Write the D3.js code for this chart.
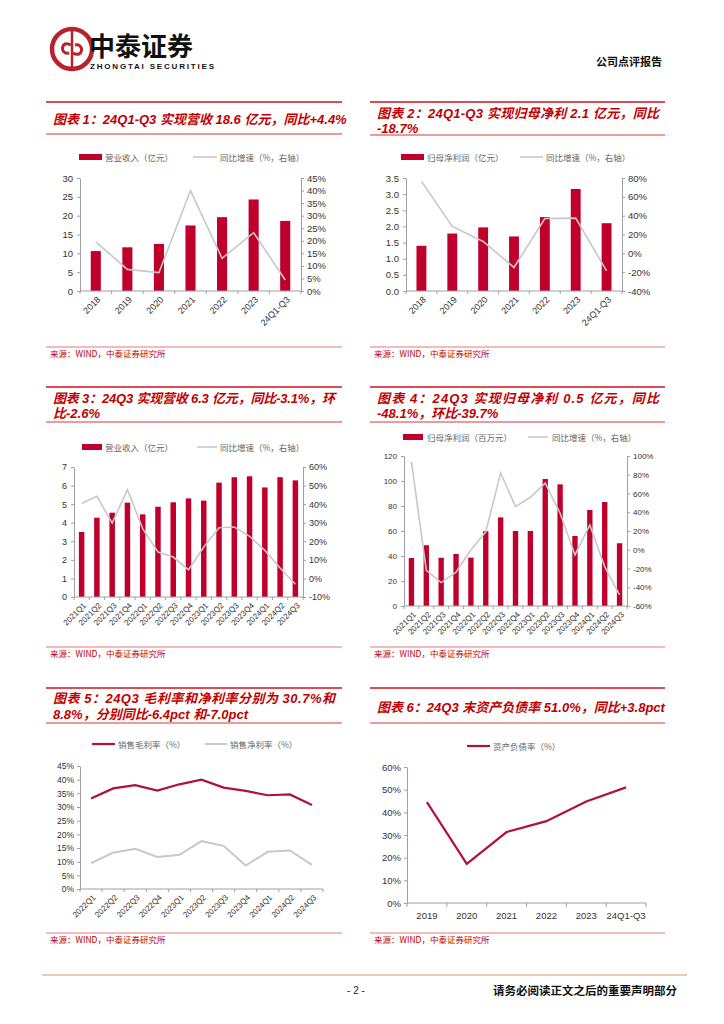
<!DOCTYPE html>
<html>
<head>
<meta charset="utf-8">
<script src="https://cdn.jsdelivr.net/npm/d3@7/dist/d3.min.js"></script>
<style>
  body { margin: 0; background: #fff; }
  svg { display: block; }
  .tick text { font-family: "Liberation Sans", Arial, sans-serif; fill: #333; }
  .cn { font-family: "Noto Sans CJK SC", sans-serif; }
</style>
</head>
<body>
<script>
// ---- data ----
const years = ['2018', '2019', '2020', '2021', '2022', '2023', '24Q1-Q3'];
const revenue = [10.6, 11.6, 12.5, 17.4, 19.6, 24.3, 18.6];
const revenueYoy = [19.6, 8.6, 7.3, 40.0, 13.0, 23.2, 4.4];
const netProfit = [1.40, 1.78, 1.97, 1.69, 2.29, 3.16, 2.10];
const netProfitYoy = [76.4, 28.5, 12.6, -15.0, 37.0, 37.4, -18.7];

const quarters = ['2021Q1', '2021Q2', '2021Q3', '2021Q4', '2022Q1', '2022Q2', '2022Q3', '2022Q4',
                  '2023Q1', '2023Q2', '2023Q3', '2023Q4', '2024Q1', '2024Q2', '2024Q3'];
const qRevenue = [3.50, 4.27, 4.54, 5.08, 4.45, 4.86, 5.10, 5.31, 5.19, 6.16, 6.45, 6.50, 5.90, 6.45, 6.28];
const qRevenueYoy = [40.3, 44.2, 29.8, 47.8, 26.8, 14.2, 11.5, 4.7, 16.9, 27.3, 27.7, 22.7, 15.1, 5.6, -3.1];
const qProfit = [38.4, 48.6, 38.6, 41.6, 38.7, 59.8, 70.9, 60.0, 60.0, 101.6, 97.3, 56.0, 76.8, 83.2, 50.2];
const qProfitYoy = [94, -22, -35, -24, 0, 19, 82, 46, 56, 71, 39, -5.5, 26.4, -18, -48.1];

const quarters5 = quarters.slice(4);
const grossMargin = [33.1, 36.8, 38.0, 36.0, 38.3, 40.0, 37.1, 35.9, 34.3, 34.6, 30.7];
const netMargin = [9.5, 13.3, 14.7, 11.7, 12.5, 17.5, 15.8, 8.6, 13.6, 14.1, 8.8];

const years6 = ['2019', '2020', '2021', '2022', '2023', '24Q1-Q3'];
const debtRatio = [44.5, 17.3, 31.3, 36.1, 44.8, 51.0];

const RED = '#c00000';
const BAR = '#c0002c';
const GREY_LINE = '#c8c8c8';
const AXIS = '#a0a0a0';
const SRC = '来源：WIND，中泰证券研究所';

const svg = d3.select('body').append('svg')
    .attr('width', 724).attr('height', 1024);

// ---- page header ----
const logo = svg.append('g').attr('transform', 'translate(72,49)');
logo.append('circle').attr('r', 20).attr('fill', 'none').attr('stroke', '#b8232b').attr('stroke-width', 4.5);
logo.append('line').attr('x1', 0).attr('x2', 0).attr('y1', -18).attr('y2', 18)
    .attr('stroke', '#b8232b').attr('stroke-width', 2.5);
logo.append('path').attr('d', 'M-1,-4 C-11,-10 -13,6 -3,4 M1,4 C11,10 13,-6 3,-4')
    .attr('fill', 'none').attr('stroke', '#b8232b').attr('stroke-width', 3);

svg.append('text').attr('class', 'cn').attr('x', 89).attr('y', 56)
    .attr('font-size', 26).attr('font-weight', 'bold').attr('fill', '#111').text('中泰证券');
svg.append('text').attr('x', 90).attr('y', 69)
    .attr('font-family', '"Liberation Sans", Arial, sans-serif')
    .attr('font-size', 8).attr('font-weight', 'bold').attr('fill', '#111')
    .attr('textLength', 124).text('ZHONGTAI SECURITIES');
svg.append('text').attr('class', 'cn').attr('x', 662).attr('y', 66).attr('text-anchor', 'end')
    .attr('font-size', 11).attr('font-weight', 'bold').attr('fill', '#111').text('公司点评报告');

// ---- footer ----
svg.append('line').attr('x1', 42).attr('x2', 687).attr('y1', 975).attr('y2', 975)
    .attr('stroke', '#e2b89c').attr('stroke-width', 1.5);
svg.append('text').attr('x', 356).attr('y', 994).attr('text-anchor', 'middle')
    .attr('font-family', '"Liberation Sans", Arial, sans-serif').attr('font-size', 10).attr('fill', '#222')
    .text('- 2 -');
svg.append('text').attr('class', 'cn').attr('x', 677).attr('y', 995).attr('text-anchor', 'end')
    .attr('font-size', 11.5).attr('font-weight', 'bold').attr('fill', '#111')
    .text('请务必阅读正文之后的重要声明部分');

// ---- panel frame: rules, title, source ----
function panel(x0, x1, top, lines, bottom, srcY) {
    svg.append('line').attr('x1', x0).attr('x2', x1).attr('y1', top).attr('y2', top)
        .attr('stroke', '#d0101e').attr('stroke-width', 1.6);
    lines.forEach(l => {
        const t = svg.append('text').attr('class', 'cn')
            .attr('x', x0 + 7).attr('y', l.y)
            .attr('font-size', 13).attr('font-weight', 'bold').attr('font-style', 'italic')
            .attr('fill', RED).text(l.text)
            .style('font-family', '"Liberation Sans", "Noto Sans CJK SC", sans-serif');
        if (l.len) t.attr('textLength', l.len).attr('lengthAdjust', 'spacing');
    });
    svg.append('line').attr('x1', x0).attr('x2', x1).attr('y1', bottom).attr('y2', bottom)
        .attr('stroke', '#e57a7a').attr('stroke-width', 1.4);
    svg.append('line').attr('x1', x0).attr('x2', x1).attr('y1', srcY).attr('y2', srcY)
        .attr('stroke', '#e57a7a').attr('stroke-width', 1.2);
    svg.append('text').attr('class', 'cn').attr('x', x0 + 4).attr('y', srcY + 10)
        .attr('font-size', 8.5).attr('fill', RED).text(SRC);
}

function legendText(x, y, text) {
    svg.append('text').attr('class', 'cn').attr('x', x).attr('y', y + 3.5)
        .attr('font-size', 8.5).attr('fill', '#666').text(text);
}
function legendBar(x, y, w) {
    svg.append('rect').attr('x', x).attr('y', y - 3).attr('width', w).attr('height', 6).attr('fill', BAR);
}
function legendLine(x, y, w, color, sw) {
    svg.append('line').attr('x1', x).attr('x2', x + w).attr('y1', y).attr('y2', y)
        .attr('stroke', color).attr('stroke-width', sw);
}

function styleAxis(g, fs) {
    g.select('.domain').attr('stroke', AXIS);
    g.selectAll('.tick line').attr('stroke', AXIS);
    g.selectAll('.tick text').attr('font-size', fs);
}

// ---- bar + line, dual axis ----
function barLine(c) {
    const x = d3.scaleBand().domain(c.cats).range([c.left, c.right]);
    const yL = d3.scaleLinear().domain(c.lDomain).range([c.bottom, c.top]);
    const yR = d3.scaleLinear().domain(c.rDomain).range([c.bottom, c.top]);

    const g = svg.append('g');
    g.selectAll('rect.bar').data(c.bars).enter().append('rect')
        .attr('class', 'bar')
        .attr('x', (d, i) => x(c.cats[i]) + x.bandwidth() * (1 - c.barFrac) / 2)
        .attr('width', x.bandwidth() * c.barFrac)
        .attr('y', d => yL(d))
        .attr('height', d => c.bottom - yL(d))
        .attr('fill', BAR);

    const line = d3.line()
        .x((d, i) => x(c.cats[i]) + x.bandwidth() / 2)
        .y(d => yR(d));
    g.append('path').datum(c.line).attr('d', line)
        .attr('fill', 'none').attr('stroke', GREY_LINE).attr('stroke-width', 1.6);

    const la = g.append('g').attr('transform', `translate(${c.left},0)`)
        .call(d3.axisLeft(yL).tickValues(c.lTicks).tickFormat(c.lFmt).tickSize(3).tickSizeOuter(0).tickPadding(4));
    styleAxis(la, c.fs);
    const ra = g.append('g').attr('transform', `translate(${c.right},0)`)
        .call(d3.axisRight(yR).tickValues(c.rTicks).tickFormat(d => d + '%').tickSize(3).tickSizeOuter(0).tickPadding(3));
    styleAxis(ra, c.fs);

    xAxisRotated(g, x, c.bottom, c.xfs);
}

function xAxisRotated(g, x, y, fs) {
    g.append('line').attr('x1', x.range()[0]).attr('x2', x.range()[1]).attr('y1', y).attr('y2', y)
        .attr('stroke', AXIS);
    const bounds = x.domain().map(d => x(d)).concat([x.range()[1]]);
    g.selectAll('line.xt').data(bounds).enter().append('line')
        .attr('x1', d => d).attr('x2', d => d).attr('y1', y).attr('y2', y + 3)
        .attr('stroke', AXIS);
    g.selectAll('text.xl').data(x.domain()).enter().append('text')
        .attr('transform', d => `translate(${x(d) + x.bandwidth() / 2 + 3},${y + 7}) rotate(-45)`)
        .attr('text-anchor', 'end').attr('dy', '0.35em')
        .attr('font-family', '"Liberation Sans", Arial, sans-serif')
        .attr('font-size', fs).attr('fill', '#333').text(d => d);
}

// ===== Chart 1 =====
panel(46, 342, 102, [{ text: '图表 1：24Q1-Q3 实现营收 18.6 亿元，同比+4.4%', y: 124 }], 134, 347);
legendBar(79, 157, 23); legendText(105, 157, '营业收入（亿元）');
legendLine(193, 157, 24, GREY_LINE, 1.6); legendText(220, 157, '同比增速（%，右轴）');
barLine({
    cats: years, bars: revenue, line: revenueYoy,
    left: 80, right: 301, top: 178, bottom: 291,
    lDomain: [0, 30], lTicks: d3.range(0, 31, 5), lFmt: d => d,
    rDomain: [0, 45], rTicks: d3.range(0, 46, 5),
    barFrac: 0.32, fs: 9.5, xfs: 9
});

// ===== Chart 2 =====
panel(370, 665, 102, [
    { text: '图表 2：24Q1-Q3 实现归母净利 2.1 亿元，同比', y: 118, len: 282 },
    { text: '-18.7%', y: 133 }], 135, 347);
legendBar(401, 157, 23); legendText(427, 157, '归母净利润（亿元）');
legendLine(520, 157, 23, GREY_LINE, 1.6); legendText(546, 157, '同比增速（%，右轴）');
barLine({
    cats: years, bars: netProfit, line: netProfitYoy,
    left: 406, right: 622, top: 178, bottom: 291,
    lDomain: [0, 3.5], lTicks: d3.range(0, 3.51, 0.5), lFmt: d3.format('.1f'),
    rDomain: [-40, 80], rTicks: d3.range(-40, 81, 20),
    barFrac: 0.32, fs: 9.5, xfs: 9
});

// ===== Chart 3 =====
panel(46, 342, 387, [
    { text: '图表 3：24Q3 实现营收 6.3 亿元，同比-3.1%，环', y: 403, len: 282 },
    { text: '比-2.6%', y: 418 }], 422, 647);
legendBar(82, 447, 20); legendText(105, 447, '营业收入（亿元）');
legendLine(197, 447, 20, GREY_LINE, 1.6); legendText(220, 447, '同比增速（%，右轴）');
barLine({
    cats: quarters, bars: qRevenue, line: qRevenueYoy,
    left: 74, right: 303, top: 467, bottom: 597,
    lDomain: [0, 7], lTicks: d3.range(0, 8), lFmt: d => d,
    rDomain: [-10, 60], rTicks: d3.range(-10, 61, 10),
    barFrac: 0.36, fs: 9, xfs: 8
});

// ===== Chart 4 =====
panel(370, 665, 387, [
    { text: '图表 4：24Q3 实现归母净利 0.5 亿元，同比', y: 403, len: 282 },
    { text: '-48.1%，环比-39.7%', y: 418 }], 422, 647);
legendBar(403, 437, 20); legendText(427, 437, '归母净利润（百万元）');
legendLine(528, 437, 20, GREY_LINE, 1.6); legendText(552, 437, '同比增速（%，右轴）');
barLine({
    cats: quarters, bars: qProfit, line: qProfitYoy,
    left: 404, right: 627, top: 456, bottom: 606,
    lDomain: [0, 120], lTicks: d3.range(0, 121, 20), lFmt: d => d,
    rDomain: [-60, 100], rTicks: d3.range(-60, 101, 20),
    barFrac: 0.36, fs: 8, xfs: 8
});

// ===== Chart 5 =====
panel(46, 342, 688, [
    { text: '图表 5：24Q3 毛利率和净利率分别为 30.7%和', y: 703, len: 282 },
    { text: '8.8%，分别同比-6.4pct 和-7.0pct', y: 719 }], 723, 933);
legendLine(92, 744, 23, '#b0123c', 2.2); legendText(118, 744, '销售毛利率（%）');
legendLine(205, 744, 22, GREY_LINE, 2); legendText(230, 744, '销售净利率（%）');
(function () {
    const x = d3.scaleBand().domain(quarters5).range([80, 323]);
    const y = d3.scaleLinear().domain([0, 45]).range([889, 766]);
    const g = svg.append('g');
    const line = d3.line().x((d, i) => x(quarters5[i]) + x.bandwidth() / 2).y(d => y(d));
    g.append('path').datum(netMargin).attr('d', line)
        .attr('fill', 'none').attr('stroke', GREY_LINE).attr('stroke-width', 2);
    g.append('path').datum(grossMargin).attr('d', line)
        .attr('fill', 'none').attr('stroke', '#b0123c').attr('stroke-width', 2.2);
    const la = g.append('g').attr('transform', 'translate(80,0)')
        .call(d3.axisLeft(y).tickValues(d3.range(0, 46, 5)).tickFormat(d => d + '%')
            .tickSize(3).tickSizeOuter(0).tickPadding(3));
    styleAxis(la, 8.5);
    xAxisRotated(g, x, 889, 8);
})();

// ===== Chart 6 =====
panel(370, 665, 688, [{ text: '图表 6：24Q3 末资产负债率 51.0%，同比+3.8pct', y: 712 }], 723, 933);
legendLine(467, 746, 23, '#b0123c', 2.2); legendText(493, 746, '资产负债率（%）');
(function () {
    const x = d3.scaleBand().domain(years6).range([407, 646]);
    const y = d3.scaleLinear().domain([0, 60]).range([903, 767]);
    const g = svg.append('g');
    const line = d3.line().x((d, i) => x(years6[i]) + x.bandwidth() / 2).y(d => y(d));
    g.append('path').datum(debtRatio).attr('d', line)
        .attr('fill', 'none').attr('stroke', '#b0123c').attr('stroke-width', 2.2);
    const la = g.append('g').attr('transform', 'translate(407,0)')
        .call(d3.axisLeft(y).tickValues(d3.range(0, 61, 10)).tickFormat(d => d + '%')
            .tickSize(3).tickSizeOuter(0).tickPadding(3));
    styleAxis(la, 9.5);
    g.append('line').attr('x1', 407).attr('x2', 646).attr('y1', 903).attr('y2', 903).attr('stroke', AXIS);
    const bounds = years6.map(d => x(d)).concat([646]);
    g.selectAll('line.xt').data(bounds).enter().append('line')
        .attr('x1', d => d).attr('x2', d => d).attr('y1', 903).attr('y2', 907).attr('stroke', AXIS);
    g.selectAll('text.xl').data(years6).enter().append('text')
        .attr('x', d => x(d) + x.bandwidth() / 2).attr('y', 919).attr('text-anchor', 'middle')
        .attr('font-family', '"Liberation Sans", Arial, sans-serif')
        .attr('font-size', 9.5).attr('fill', '#333').text(d => d);
})();
</script>
</body>
</html>
